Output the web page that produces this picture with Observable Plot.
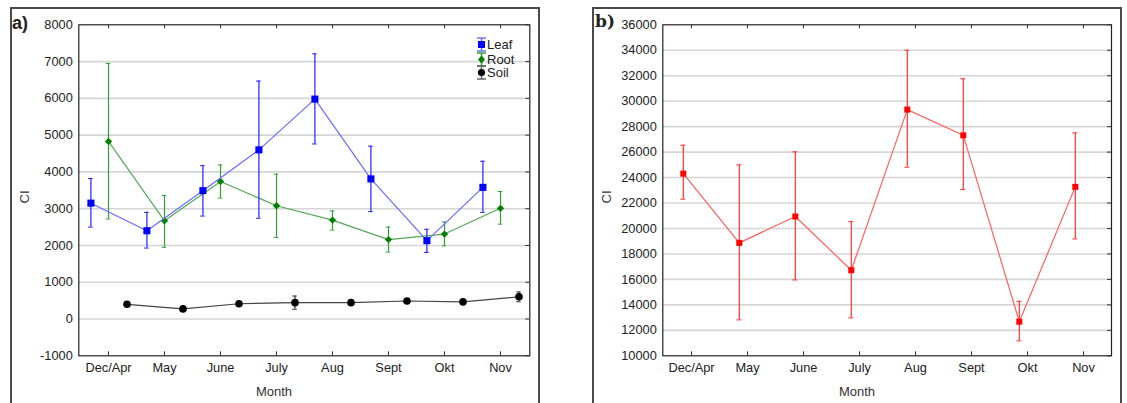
<!DOCTYPE html>
<html><head><meta charset="utf-8">
<script src="https://cdn.jsdelivr.net/npm/d3@7"></script>
<script src="https://cdn.jsdelivr.net/npm/@observablehq/plot@0.6"></script>
<style>
body{margin:0;background:#fff;font-family:"Liberation Sans",Arial,sans-serif;}
#root{position:relative;width:1127px;height:403px;overflow:hidden;background:#fff;}
.frame{position:absolute;border:2px solid #4a4a4a;box-sizing:border-box;}
.plotwrap{position:absolute;top:0;}
.tag{position:absolute;font-weight:bold;font-size:18px;color:#222;line-height:1;}
.xlab{position:absolute;font-size:13px;color:#333;transform:translate(-50%,-50%);white-space:nowrap;}
.ylab{position:absolute;font-size:13px;color:#333;transform:translate(-50%,-50%) rotate(-90deg);white-space:nowrap;}
.leg{position:absolute;font-size:13px;color:#222;line-height:1;display:flex;align-items:center;}
</style></head><body><div id="root"></div>
<script>
const months = ["Dec/Apr","May","June","July","Aug","Sept","Okt","Nov"];
// Panel a
const leafMean = [3150,2400,3490,4600,5980,3810,2130,3580];
const leafLow  = [2500,1930,2800,2740,4760,2920,1810,2900];
const leafHigh = [3820,2900,4170,6470,7210,4700,2440,4290];
const rootMean = [4830,2670,3740,3080,2690,2160,2310,3010];
const rootLow  = [2720,1950,3290,2220,2420,1820,1990,2580];
const rootHigh = [6950,3360,4190,3940,2940,2500,2640,3470];
const soilMean = [400,275,415,445,445,490,465,605];
const soilLow  = [340,225,365,265,395,440,415,470];
const soilHigh = [460,325,465,625,495,540,515,735];
const yTicksA = [-1000,0,1000,2000,3000,4000,5000,6000,7000,8000];
// Panel b
const clMean = [24310,18870,20940,16720,29340,27320,12680,23270];
const clLow  = [22300,12820,15960,12980,24810,23060,11170,19180];
const clHigh = [26540,25000,26020,20540,34000,31760,14280,27510];
const yTicksB = [10000,12000,14000,16000,18000,20000,22000,24000,26000,28000,30000,32000,34000,36000];

const rows = (m, lo, hi) => months.map((mo, i) => ({month: mo, mean: m[i], low: lo[i], high: hi[i]}));
const leaf = rows(leafMean, leafLow, leafHigh);
const root = rows(rootMean, rootLow, rootHigh);
const soil = rows(soilMean, soilLow, soilHigh);
const cl = rows(clMean, clLow, clHigh);

const H = 403, MT = 24.3, MB = H - 355.3;
const font = {fontFamily: "'Liberation Sans', Arial, sans-serif", fontSize: "12.8px", color: "#222", background: "transparent", overflow: "visible"};

function series(data, {dx, line, err, fill, symbol, r, bw}) {
  const capInset = (bw - 5) / 2;
  return [
    Plot.line(data, {x: "month", y: "mean", dx, stroke: line, strokeWidth: 1.2}),
    Plot.ruleX(data, {x: "month", y1: "low", y2: "high", dx, stroke: err, strokeWidth: 1.2}),
    Plot.tickY(data, {x: "month", y: "low", dx, stroke: err, insetLeft: capInset, insetRight: capInset, strokeWidth: 1}),
    Plot.tickY(data, {x: "month", y: "high", dx, stroke: err, insetLeft: capInset, insetRight: capInset, strokeWidth: 1}),
    Plot.dot(data, {x: "month", y: "mean", dx, symbol, r, fill, stroke: "none"})
  ];
}

function frameMarks(yTicks, pw, ph) {
  return [
    Plot.frame({stroke: "#222", strokeWidth: 1.2}),
    Plot.tickX(months, {x: d => d, stroke: "#333", insetTop: ph - 4}),
    Plot.tickX(months, {x: d => d, stroke: "#333", insetBottom: ph - 4}),
    Plot.tickY(yTicks, {y: d => d, stroke: "#333", insetLeft: pw - 4}),
    Plot.axisX({anchor: "bottom", tickSize: 0, tickPadding: 7, label: null, fill: "#222"}),
    Plot.axisY(yTicks, {anchor: "left", tickSize: 0, tickPadding: 6, label: null, fill: "#222", tickFormat: d => String(d)})
  ];
}

// Panel a plot
const WA = 560, MLA = 78.3, MRA = 560 - 529.3;
const pwA = WA - MLA - MRA, phA = H - MT - MB, bwA = pwA / 8;
const plotA = Plot.plot({
  width: WA, height: H,
  marginLeft: MLA, marginRight: MRA, marginTop: MT, marginBottom: MB,
  style: font,
  x: {type: "band", domain: months, padding: 0, label: null, axis: null},
  y: {domain: [-1000, 8000], label: null, axis: null},
  marks: [
    Plot.gridY(yTicksA.slice(1, -1), {stroke: "#d6d6d6", strokeOpacity: 1, strokeWidth: 1.6}),
    ...series(soil, {dx: 18.5, line: "#444", err: "#333", fill: "#000", symbol: "circle", r: 3.8, bw: bwA}),
    ...series(root, {dx: 0, line: "#55a855", err: "#3a9a3a", fill: "#008000", symbol: "diamond2", r: 3.3, bw: bwA}),
    ...series(leaf, {dx: -17.6, line: "#6a6aff", err: "#2020ff", fill: "#0000ff", symbol: "square", r: 4, bw: bwA}),
    ...frameMarks(yTicksA, pwA, phA)
  ]
});

// Panel b plot
const WB = 567, MLB = 662.3 - 560, MRB = 1127 - 1111;
const pwB = WB - MLB - MRB, phB = H - MT - MB, bwB = pwB / 8;
const plotB = Plot.plot({
  width: WB, height: H,
  marginLeft: MLB, marginRight: MRB, marginTop: MT, marginBottom: MB,
  style: font,
  x: {type: "band", domain: months, padding: 0, label: null, axis: null},
  y: {domain: [10000, 36000], label: null, axis: null},
  marks: [
    Plot.gridY(yTicksB.slice(1, -1), {stroke: "#d6d6d6", strokeOpacity: 1, strokeWidth: 1.6}),
    ...series(cl, {dx: -8.2, line: "#ff6060", err: "#ff3030", fill: "#ff0000", symbol: "square", r: 3.4, bw: bwB}),
    ...frameMarks(yTicksB, pwB, phB)
  ]
});

const root_ = document.getElementById("root");
function add(html) { const d = document.createElement("div"); d.innerHTML = html; const el = d.firstElementChild; root_.appendChild(el); return el; }

add(`<div class="frame" style="left:10px;top:7px;width:530px;height:420px;"></div>`);
add(`<div class="frame" style="left:592px;top:7px;width:530px;height:420px;"></div>`);

const wa = add(`<div class="plotwrap" style="left:0px;"></div>`); wa.appendChild(plotA);
const wb = add(`<div class="plotwrap" style="left:560px;"></div>`); wb.appendChild(plotB);

add(`<div class="tag" style="left:12px;top:14px;font-family:'Liberation Sans',Arial,sans-serif;">a)</div>`);
add(`<div class="tag" style="left:595px;top:13px;font-family:'DejaVu Serif',serif;font-size:17px;">b)</div>`);

add(`<div class="xlab" style="left:274px;top:391px;">Month</div>`);
add(`<div class="xlab" style="left:857px;top:391px;">Month</div>`);
add(`<div class="ylab" style="left:24px;top:197px;">CI</div>`);
add(`<div class="ylab" style="left:606px;top:197px;">CI</div>`);

// Legend
const legendItems = [
  {name: "Leaf", err: "#7070ff", fill: "#0000ff", shape: "square", y: 44.7},
  {name: "Root", err: "#3a9a3a", fill: "#008000", shape: "diamond", y: 59},
  {name: "Soil", err: "#666", fill: "#000", shape: "circle", y: 72.7}
];
for (const it of legendItems) {
  let m;
  if (it.shape === "square") m = `<rect x="2" y="4" width="7" height="7" fill="${it.fill}"/>`;
  else if (it.shape === "diamond") m = `<path d="M5.5 3.5 L9 7.5 L5.5 11.5 L2 7.5 Z" fill="${it.fill}"/>`;
  else m = `<circle cx="5.5" cy="7.5" r="3.6" fill="${it.fill}"/>`;
  add(`<div class="leg" style="left:476px;top:${it.y - 7.5}px;"><svg width="11" height="15" style="display:block"><line x1="5.5" y1="1" x2="5.5" y2="14" stroke="${it.err}" stroke-width="1.5"/><line x1="1" y1="1" x2="10" y2="1" stroke="${it.err}" stroke-width="1.5"/><line x1="1" y1="14" x2="10" y2="14" stroke="${it.err}" stroke-width="1.5"/>${m}</svg><span>${it.name}</span></div>`);
}
</script>
</body></html>
